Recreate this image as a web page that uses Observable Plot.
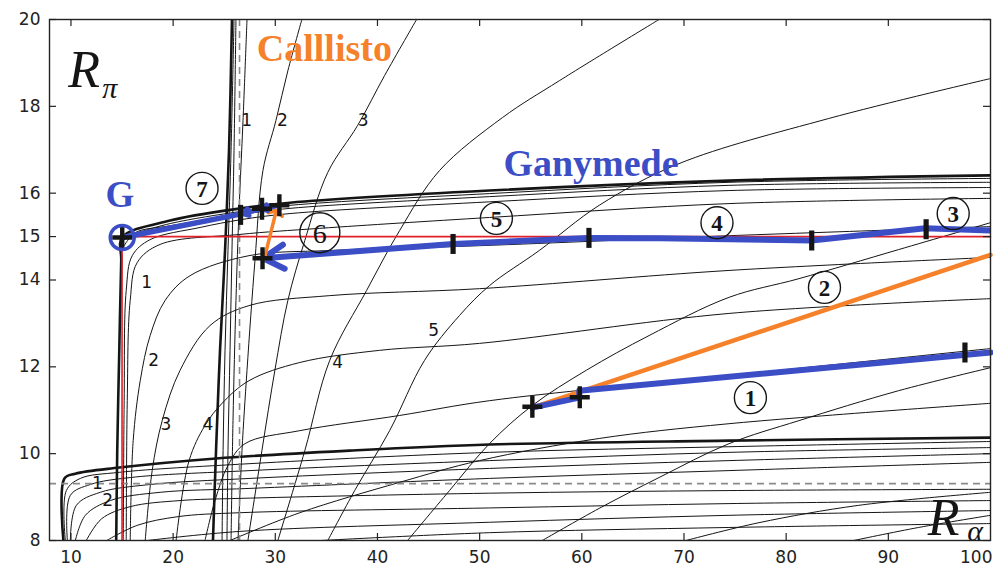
<!DOCTYPE html>
<html><head><meta charset="utf-8">
<script src="https://cdn.jsdelivr.net/npm/d3@7"></script>
<script src="https://cdn.jsdelivr.net/npm/@observablehq/plot@0.6"></script>
<style>body{margin:0;background:#fff;} #chart svg{display:block;}</style>
</head><body><div id="chart"></div>
<script>
// ---- axis ticks ----
const xTicks = [10, 20, 30, 40, 50, 60, 70, 80, 90];
const xTickLast = [100];
const yTicks = [8, 10, 12, 14, 15, 16, 18, 20];

// ---- thick mesh curves (R_alpha, R_pi) ----
const b1 = [[14.43,8],[14.53,10.07],[14.73,12.38],[14.92,14.45],[15.02,14.98],[19.71,15.37],[26.64,15.65],[31.43,15.78],[50.96,16.06],[74.4,16.29],[100,16.41]];
const T  = [[9.26,8],[9.36,9.43],[10.43,9.54],[14.73,9.68],[24.2,9.89],[37.28,10.07],[50.96,10.21],[74.4,10.3],[100,10.37]];
const S0a = [[23.9,8],[24.2,10.07],[24.59,12.38],[25.08,14.68],[25.47,16.98],[25.76,20]];

// ---- thin mesh curves, flattening to the right ----
const b2 = [[15.02,14.98],[19.71,15.3],[26.64,15.58],[31.43,15.72],[50.96,15.99],[74.4,16.25],[100,16.34]];
const b3 = [[15.21,14.79],[16.29,15.09],[19.71,15.25],[26.64,15.51],[31.43,15.65],[50.96,15.92],[74.4,16.18],[100,16.25]];
const n1 = [[15.12,8],[15.21,11.22],[15.41,13.76],[16.0,14.56],[17.75,14.93],[22.64,15.21],[26.64,15.39],[31.43,15.53],[50.96,15.8],[74.4,16.06],[100,16.13]];
const alpha = [[15.41,8],[15.51,11.22],[15.8,13.53],[16.48,14.4],[18.73,14.82],[26.54,15.05],[34.36,15.19],[50.96,15.44],[74.4,15.76],[100,15.88]];
const beta = [[15.8,8],[16.09,10.3],[16.78,11.68],[17.75,12.72],[19.22,13.53],[21.66,14.1],[27.42,14.56],[35.33,14.68],[49.98,14.79],[74.4,15.02],[100,15.23]];
const gamma = [[17.27,8],[17.95,9.61],[18.93,10.76],[20.68,11.92],[23.61,12.95],[27.42,13.41],[35.33,13.64],[49.98,13.8],[74.4,14.22],[100,14.52]];
const delta = [[20.29,8],[21.56,9.84],[23.12,10.65],[24.79,11.16],[27.42,11.68],[32.4,12.1],[40.21,12.38],[49.98,12.54],[74.4,13.23],[100,13.57]];
const eps1 = [[23.12,8],[24.1,8.92],[25.37,9.73],[27.03,10.23],[32.4,10.53],[42.17,10.88],[50.96,11.22],[74.4,11.8],[100,12.42]];
const eps2 = [[25.57,8],[32.4,8.64],[42.17,9.34],[49.98,9.84],[61.7,10.35],[74.4,10.69],[100,11.16]];
const L1 = [[9.45,8],[9.55,9.15],[10.92,9.43],[14.73,9.57],[27.52,9.77],[50.96,10.03],[74.4,10.16],[100,10.28]];
const L2 = [[9.65,8],[9.94,9.04],[11.9,9.29],[15.8,9.45],[27.52,9.61],[50.96,9.84],[74.4,10.03],[100,10.14]];
const L3 = [[9.94,8],[10.53,8.81],[12.87,9.11],[17.75,9.29],[27.52,9.43],[50.96,9.66],[74.4,9.84],[100,10.0]];
const L4 = [[10.43,8],[11.41,8.58],[13.85,8.92],[18.73,9.11],[27.52,9.2],[50.96,9.43],[74.4,9.61],[100,9.8]];
const L5 = [[11.5,8],[13.0,8.5],[15.8,8.78],[20.68,8.92],[26.54,8.97],[50.96,9.09],[74.4,9.15],[100,9.18]];
const L6 = [[13.5,8],[16.5,8.35],[20.5,8.55],[26.54,8.64],[50.96,8.75],[74.4,8.85],[100,8.92]];
const L7 = [[17.5,8],[26.54,8.21],[50.96,8.42],[74.4,8.58],[100,8.69]];
const L8 = [[34.5,8],[50.96,8.18],[74.4,8.3],[100,8.39]];

// ---- thin mesh curves, steep family ----
const S0b = [[24.79,8],[24.89,10.07],[25.08,12.38],[25.37,14.68],[25.67,16.98],[25.96,20]];
const S0c = [[25.27,8],[25.37,10.07],[25.57,12.38],[25.76,14.68],[25.96,16.98],[26.15,20]];
const S1 = [[25.67,8],[25.86,10.76],[26.15,13.53],[26.45,15.6],[26.84,17.67],[27.23,20]];
const S2 = [[26.35,8],[26.74,10.07],[27.23,11.92],[28.01,14.45],[28.79,16.52],[30.06,17.67],[31.23,18.82],[32.6,20]];
const S3 = [[27.32,8],[28.69,10.07],[29.96,11.92],[31.23,13.53],[32.89,14.91],[35.14,16.48],[38.06,17.56],[40.7,18.71],[43.83,20]];
const S4 = [[30.25,8],[32.89,10.07],[35.33,12.15],[38.94,13.76],[42.17,15.14],[46.07,16.52],[52.23,17.74],[57.8,18.59],[67.56,20]];
const S5 = [[35.14,8],[37.77,9.15],[41.19,10.53],[44.61,12.15],[48.02,13.18],[50.96,13.87],[55.84,14.68],[61.7,15.72],[69.51,16.68],[84.17,17.72],[100,18.64]];
const S6 = [[42.95,8],[47.05,9.15],[50.96,10.23],[55.16,11.11],[60.43,11.92],[66.58,12.72],[74.4,13.6],[81.24,14.03],[91.0,14.7],[100,15.32]];
const S7 = [[56.13,8],[61.7,8.74],[67.56,9.45],[74.4,10.23],[81.24,10.76],[91.0,11.45],[100,11.98]];
const S8 = [[70.2,8],[77.33,8.41],[87.1,8.81],[100,9.11]];
const S9 = [[86.61,8],[92.96,8.3],[100,8.58]];

// ---- reference dashed lines ----
const dashX = [26.5];
const dashY = [9.31];

// ---- paths ----
const redPath = [[15,8],[15,15],[100,15]];
const blueLower = [[55.16,11.06],[59.75,11.29],[59.75,11.45],[100,12.33]];
const orangeLower = [[55.16,11.06],[100,14.58]];
const blueUpper = [[100,15.14],[93.6,15.19],[82.5,14.91],[67.6,14.96],[60.7,14.97],[47.4,14.83]];
const blueUpperArrow = [[47.4,14.83],[28.8,14.5]];
const orangeShort = [[28.9,14.47],[30.1,15.6]];
const blue7 = [[30.4,15.72],[28.7,15.64],[26.8,15.53],[15.05,14.98]];

// ---- markers ----
const plusMarks = [[55.16,11.08],[59.8,11.3],[28.75,14.5],[28.7,15.64],[30.4,15.72],[15.02,14.98]];
const barMarks = [[97.5,12.33],[93.7,15.17],[82.5,14.91],[60.7,14.97],[47.4,14.83],[26.6,15.5]];
const gCircle = [[15.02,14.98]];

// ---- labels ----
const circledNums = [["1",76.5,11.29],["2",83.75,13.83],["3",96.35,15.53],["4",73.23,15.32],["5",51.64,15.42],["7",22.83,16.11]];
const circledBig = [["6",34.36,15.09]];
const curveLabels = [["1",27.2,17.67],["2",30.7,17.67],["3",38.6,17.67],["1",17.4,13.94],["2",18.1,12.15],["3",19.3,10.67],["4",23.4,10.67],["4",36.1,12.1],["5",45.5,12.84],["1",12.6,9.31],["2",13.6,8.92]];
const moonLabels = [["Calllisto",34.8,19.33,"orange"],["Ganymede",60.9,16.68,"blue"],["G",14.8,15.95,"blue"]];
const axisSymbols = [["R",11.3,18.82,"π",13.8,18.42],["R",95.4,8.52,"α",98.5,8.22]];

const BLUE = "#3b4ec6", ORANGE = "#f5822a", RED = "#e0202a", INK = "#151515";

const thin = [b2,b3,n1,alpha,beta,gamma,delta,eps1,eps2,L1,L2,L3,L4,L5,L6,L7,L8,S0b,S0c,S1,S2,S3,S4,S5,S6,S7,S8,S9];
const thick = [b1,T,S0a];
const rows = (curves) => curves.flatMap((c,i) => c.map(([x,y]) => ({x, y, z: i})));

const plusSym = {draw(c){ c.rect(-10,-2.2,20,4.4); c.rect(-2.2,-11,4.4,22); }};
const barSym = {draw(c){ c.rect(-2.6,-10,5.2,20); }};

const W = 993, H = 579, mL = 49, mR = 3, mT = 19, mB = 39;
const innerW = W - mL - mR, innerH = H - mT - mB;
const seg = {x1: d => d[0][0], y1: d => d[0][1], x2: d => d[1][0], y2: d => d[1][1]};

const chart = Plot.plot({
  width: W, height: H,
  marginLeft: mL, marginRight: mR, marginTop: mT, marginBottom: mB,
  x: {domain: [7.9, 100], axis: null},
  y: {domain: [8, 20], axis: null},
  style: {fontFamily: "DejaVu Sans", fontSize: "17px", color: "#222", background: "#fff"},
  marks: [
    Plot.line(rows(thin), {x: "x", y: "y", z: "z", curve: "catmull-rom", stroke: INK, strokeWidth: 1, clip: true}),
    Plot.line(rows(thick), {x: "x", y: "y", z: "z", curve: "catmull-rom", stroke: INK, strokeWidth: 2.6, clip: true}),
    Plot.ruleX(dashX, {stroke: "#8a8a8a", strokeWidth: 1.6, strokeDasharray: "7,5"}),
    Plot.ruleY(dashY, {stroke: "#8a8a8a", strokeWidth: 1.6, strokeDasharray: "7,5"}),
    Plot.line(redPath, {stroke: RED, strokeWidth: 1.6}),
    Plot.line(orangeLower, {stroke: ORANGE, strokeWidth: 4.5}),
    Plot.line(blueLower, {stroke: BLUE, strokeWidth: 6}),
    Plot.line(blueUpper, {stroke: BLUE, strokeWidth: 6, clip: true}),
    Plot.arrow([blueUpperArrow], {...seg, stroke: BLUE, strokeWidth: 6, headLength: 6, headAngle: 60}),
    Plot.arrow([orangeShort], {...seg, stroke: ORANGE, strokeWidth: 3.5, headLength: 3.5, headAngle: 120}),
    Plot.arrow(d3.pairs(blue7.slice(0, 3)), {...seg, stroke: BLUE, strokeWidth: 5, headLength: 4.2, headAngle: 60}),
    Plot.line(blue7.slice(2), {stroke: BLUE, strokeWidth: 5.5}),
    Plot.dot(plusMarks, {symbol: plusSym, fill: INK, stroke: null}),
    Plot.dot(barMarks, {symbol: barSym, fill: INK, stroke: null}),
    Plot.dot(gCircle, {r: 12, stroke: BLUE, strokeWidth: 3.5, fill: "none"}),
    // circled numbers
    Plot.dot(circledNums, {x: d => d[1], y: d => d[2], r: 16, stroke: INK, strokeWidth: 1.4, fill: "none"}),
    Plot.text(circledNums, {x: d => d[1], y: d => d[2], text: d => d[0], fontFamily: "Liberation Serif", fontWeight: "bold", fontSize: 23, fill: INK, dy: 1}),
    Plot.dot(circledBig, {x: d => d[1], y: d => d[2], r: 20, stroke: INK, strokeWidth: 1.4, fill: "none"}),
    Plot.text(circledBig, {x: d => d[1], y: d => d[2], text: d => d[0], fontFamily: "Liberation Serif", fontSize: 28, fill: INK, dy: 1}),
    // curve labels
    Plot.text(curveLabels, {x: d => d[1], y: d => d[2], text: d => d[0], fontSize: 17, fill: INK}),
    // moon labels
    Plot.text(moonLabels, {x: d => d[1], y: d => d[2], text: d => d[0], fontFamily: "Liberation Serif", fontWeight: "bold", fontSize: d => d[0] === "G" ? 37 : 38, fill: d => d[3] === "orange" ? ORANGE : BLUE}),
    // axis symbols R_pi, R_alpha
    Plot.text(axisSymbols, {x: d => d[1], y: d => d[2], text: d => d[0], fontFamily: "Liberation Serif", fontStyle: "italic", fontSize: 52, fill: INK}),
    Plot.text(axisSymbols, {x: d => d[4], y: d => d[5], text: d => d[3], fontFamily: "Liberation Serif", fontStyle: "italic", fontSize: 30, fill: INK}),
    // frame and inward ticks
    Plot.frame({stroke: "#222", strokeWidth: 1.4}),
    Plot.ruleX(xTicks, {insetTop: innerH - 7, stroke: "#222", strokeWidth: 1.2}),
    Plot.ruleX(xTicks, {insetBottom: innerH - 7, stroke: "#222", strokeWidth: 1.2}),
    Plot.ruleY(yTicks, {insetRight: innerW - 7, stroke: "#222", strokeWidth: 1.2}),
    Plot.ruleY(yTicks, {insetLeft: innerW - 7, stroke: "#222", strokeWidth: 1.2}),
    Plot.axisX(xTicks, {anchor: "bottom", tickSize: 0, tickPadding: 10, fontSize: 17, label: null}),
    Plot.axisX(xTickLast, {anchor: "bottom", tickSize: 0, tickPadding: 10, fontSize: 17, textAnchor: "end", dx: 2, label: null}),
    Plot.axisY(yTicks, {anchor: "left", tickSize: 0, tickPadding: 9, fontSize: 17, label: null})
  ]
});
document.getElementById("chart").append(chart);
</script>
</body></html>
